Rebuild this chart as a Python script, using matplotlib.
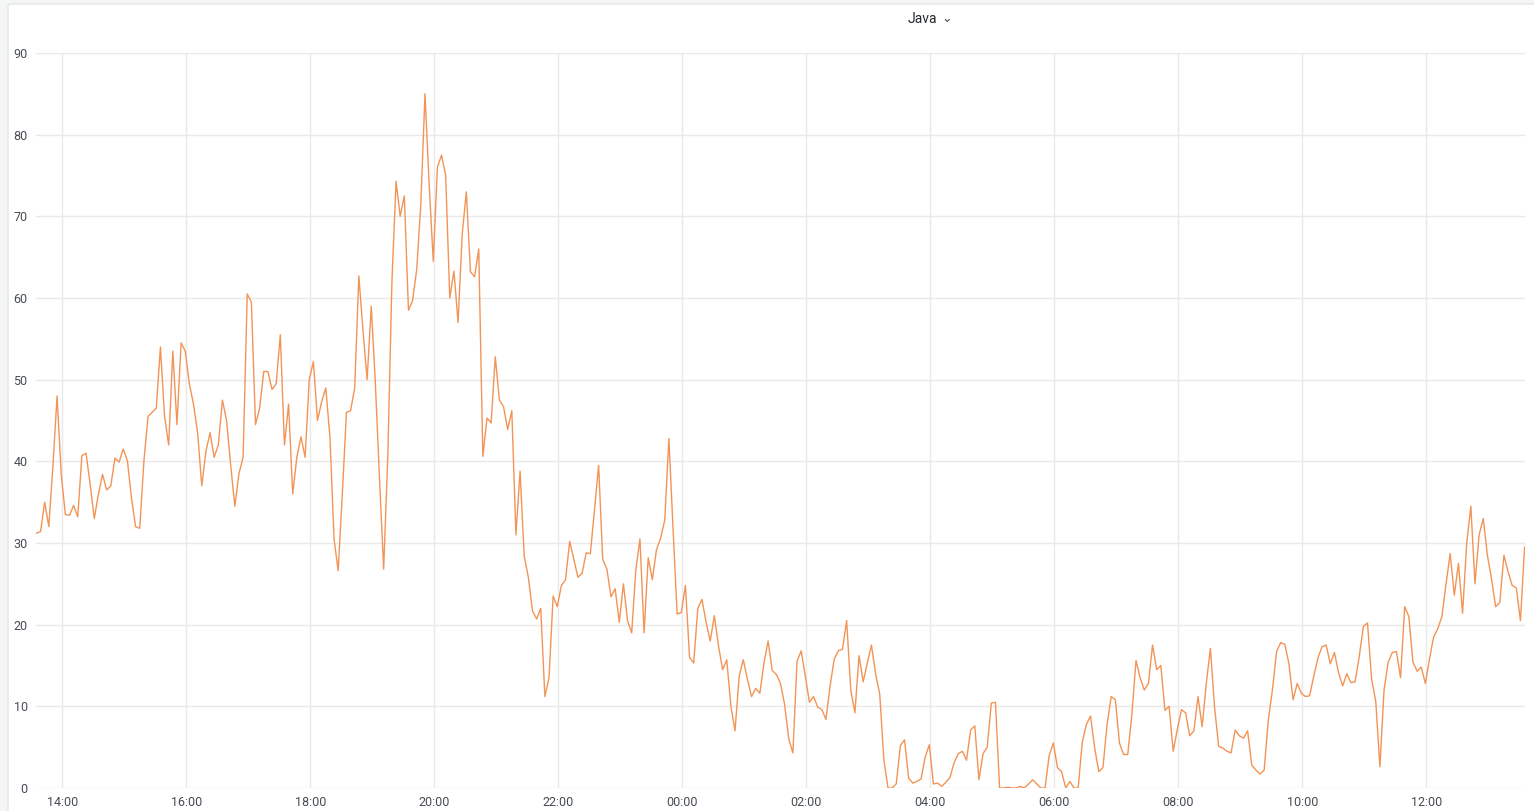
import numpy as np
import pandas as pd
import matplotlib
matplotlib.use("Agg")
import matplotlib.pyplot as plt
import matplotlib.dates as mdates
from matplotlib.patches import FancyBboxPatch

# series "Java", one sample every 4 minutes
start_time = "2019-01-01 13:35"
step_minutes = 4
java = [
    31.2, 31.4, 35.0, 32.0, 39.5, 48.0, 38.4, 33.5, 33.4, 34.6,
    33.2, 40.7, 41.0, 37.2, 33.0, 36.0, 38.4, 36.5, 37.0, 40.4,
    39.9, 41.5, 40.1, 35.5, 32.0, 31.8, 40.0, 45.5, 46.0, 46.5,
    54.0, 45.5, 42.0, 53.5, 44.5, 54.5, 53.5, 49.5, 47.0, 43.5,
    37.0, 41.2, 43.5, 40.5, 42.0, 47.5, 45.0, 39.5, 34.5, 38.5,
    40.5, 60.5, 59.5, 44.5, 46.5, 51.0, 51.0, 48.8, 49.5, 55.5,
    42.0, 47.0, 36.0, 40.5, 43.0, 40.5, 50.0, 52.2, 45.0, 47.3,
    49.0, 43.0, 30.5, 26.6, 36.0, 46.0, 46.2, 49.0, 62.7, 56.0,
    50.0, 59.0, 49.5, 37.8, 26.8, 40.5, 62.0, 74.3, 70.0, 72.5,
    58.5, 59.7, 63.5, 71.6, 85.0, 74.0, 64.5, 76.0, 77.5, 75.0,
    60.0, 63.3, 57.0, 67.8, 73.0, 63.2, 62.6, 66.0, 40.6, 45.3,
    44.7, 52.8, 47.5, 46.7, 43.9, 46.2, 31.0, 38.8, 28.4, 25.8,
    21.7, 20.7, 22.0, 11.2, 13.5, 23.5, 22.2, 24.8, 25.5, 30.2,
    28.0, 25.8, 26.3, 28.8, 28.7, 34.0, 39.5, 28.0, 26.8, 23.4,
    24.4, 20.3, 25.0, 20.5, 19.0, 26.7, 30.5, 19.0, 28.2, 25.5,
    29.2, 30.6, 32.8, 42.8, 31.8, 21.3, 21.5, 24.8, 16.0, 15.3,
    22.0, 23.1, 20.3, 18.0, 21.1, 17.4, 14.5, 15.7, 10.0, 7.0,
    13.7, 15.7, 13.3, 11.2, 12.2, 11.6, 15.3, 18.0, 14.4, 13.9,
    12.8, 10.2, 6.0, 4.3, 15.5, 16.8, 13.7, 10.5, 11.2, 9.9,
    9.6, 8.4, 12.5, 15.8, 16.8, 17.0, 20.5, 12.0, 9.2, 16.2,
    13.0, 15.3, 17.5, 14.0, 11.5, 3.5, 0.0, 0.0, 0.5, 5.2,
    5.9, 1.2, 0.6, 0.8, 1.1, 3.8, 5.3, 0.5, 0.6, 0.2,
    0.7, 1.3, 3.1, 4.2, 4.5, 3.4, 7.1, 7.6, 1.0, 4.2,
    5.0, 10.4, 10.5, 0.0, 0.0, 0.1, 0.0, 0.0, 0.2, 0.0,
    0.5, 1.0, 0.5, 0.0, 0.0, 4.0, 5.5, 2.5, 2.0, 0.0,
    0.8, 0.0, 0.0, 5.6, 7.8, 8.8, 4.9, 2.0, 2.5, 7.8,
    11.2, 10.8, 5.5, 4.1, 4.1, 9.0, 15.6, 13.5, 12.0, 12.8,
    17.5, 14.5, 15.0, 9.5, 10.0, 4.5, 7.2, 9.6, 9.2, 6.4,
    7.0, 11.2, 7.5, 12.8, 17.1, 9.9, 5.1, 4.9, 4.5, 4.3,
    7.1, 6.4, 6.1, 7.0, 2.8, 2.2, 1.7, 2.2, 8.3, 12.0,
    16.7, 17.8, 17.6, 15.2, 10.8, 12.8, 11.6, 11.2, 11.3, 13.7,
    15.9, 17.3, 17.5, 15.2, 16.6, 14.1, 12.5, 14.0, 12.9, 13.0,
    16.1, 19.8, 20.2, 13.3, 10.6, 2.6, 12.0, 15.4, 16.6, 16.7,
    13.5, 22.2, 21.0, 15.4, 14.3, 14.8, 12.8, 15.8, 18.5, 19.5,
    21.0, 25.0, 28.7, 23.6, 27.5, 21.4, 30.0, 34.5, 25.0, 31.0,
    33.0, 28.5, 25.6, 22.2, 22.7, 28.5, 26.5, 24.8, 24.5, 20.5, 29.5,
]
y_ticks = [0, 10, 20, 30, 40, 50, 60, 70, 80, 90]
series_name = "Java"

times = pd.date_range(start_time, periods=len(java), freq=f"{step_minutes}min")

W, H = 1534, 811
fig = plt.figure(figsize=(W / 100, H / 100), dpi=100)
fig.patch.set_facecolor("#f4f5f5")

# white panel like the dashboard card
panel = FancyBboxPatch((8 / W, -0.05), 1.2, 1.05 - 4 / H,
                       boxstyle="round,pad=0,rounding_size=0.003",
                       transform=fig.transFigure, facecolor="white",
                       edgecolor="#e3e4e6", linewidth=1.0, zorder=-10)
fig.patches.append(panel)

ax = fig.add_axes([36 / W, (H - 788) / H, (1525 - 36) / W, (788 - 53) / H])
ax.set_facecolor("none")
ax.set_zorder(1)

ax.plot(times, java, color="#f29456", linewidth=1.0)

ax.set_ylim(0, 90)
ax.set_yticks(y_ticks)
pad = pd.Timedelta(minutes=0.4)
ax.set_xlim(times[0] - pad, times[-1] + pad)
ax.xaxis.set_major_locator(mdates.HourLocator(byhour=range(0, 24, 2)))
ax.xaxis.set_major_formatter(mdates.DateFormatter("%H:%M"))

for s in ax.spines.values():
    s.set_visible(False)
ax.grid(True, color="#e9e9e9", linewidth=1.0)
ax.set_axisbelow(True)
ax.tick_params(axis="both", length=0, labelsize=9, labelcolor="#464c54")
ax.tick_params(axis="x", pad=6)
ax.tick_params(axis="y", pad=6)
for lab in ax.get_xticklabels() + ax.get_yticklabels():
    lab.set_fontfamily("Roboto")

# legend on top
fig.text(908 / W, 1 - 19 / H, series_name, fontsize=10, color="#24292e",
         family="Roboto", ha="left", va="center")
fig.text(947 / W, 1 - 19 / H, "\u2304", fontsize=9, color="#464c54",
         family=["Roboto", "DejaVu Sans"], ha="center", va="center")

fig.savefig("out.png", dpi=100, facecolor=fig.get_facecolor())
